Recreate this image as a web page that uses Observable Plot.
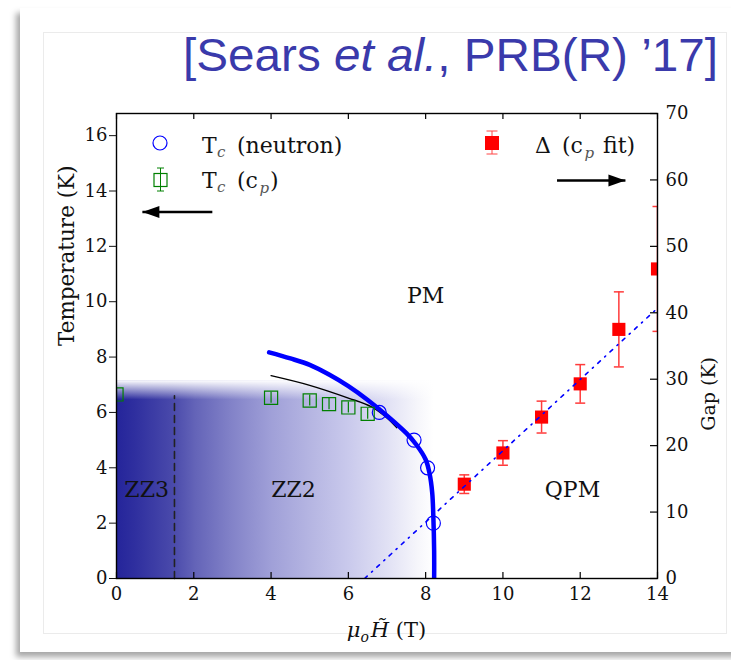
<!DOCTYPE html>
<html>
<head>
<meta charset="utf-8">
<script src="https://cdn.jsdelivr.net/npm/d3@7"></script>
<script src="https://cdn.jsdelivr.net/npm/@observablehq/plot@0.6"></script>
<style>
  body { margin: 0; background: #fff; }
  #stage { position: relative; width: 731px; height: 660px; overflow: hidden; background: #fff; }
  #panel { position: absolute; left: 20px; top: 8px; width: 760px; height: 644px; background: #fff;
           box-shadow: -4px 5px 6px rgba(0, 0, 0, 0.35); }
  #inner { position: absolute; left: 43px; top: 32px; width: 682px; height: 600px; background: #fff;
           border: 1px solid #ebebeb; }
  #title { position: absolute; left: 183px; top: 31px; font: 47px "Liberation Sans", Arial, sans-serif;
           line-height: 1; color: #3a3aab; white-space: nowrap; transform-origin: 0 0; }
  #chart { position: absolute; left: 0; top: 0; }
</style>
</head>
<body>
<div id="stage">
  <div id="panel"></div>
  <div id="inner"></div>
  <div id="title">[Sears <i>et al.</i>, PRB(R) ’17]</div>
  <div id="chart"></div>
</div>
<script>
// Ordering temperature from neutron diffraction (field in T, temperature in K)
const neutronH = [6.8, 7.7, 8.05, 8.2];
const neutronT = [6.0, 5.0, 4.0, 2.0];

// Ordering temperature from specific-heat anomalies
const cpH = [0.0, 4.0, 5.0, 5.5, 6.0, 6.5];
const cpT = [6.65, 6.53, 6.43, 6.3, 6.18, 5.95];
const cpErr = [0.2, 0.2, 0.2, 0.2, 0.2, 0.2];

// Gap from fits to the specific heat (K, right axis)
const gapH = [9, 10, 11, 12, 13, 14];
const gapK = [14.2, 18.9, 24.3, 29.3, 37.5, 46.6];
const gapErr = [1.4, 1.85, 2.4, 2.9, 5.65, 9.4];

// Linear fit of the gap
const fitH = [6.42, 14];
const fitGap = [0, 40.7];

// Phase boundary of the ordered state
const boundaryH = [3.95, 4.5, 5.0, 5.5, 6.0, 6.5, 7.0, 7.5, 7.75, 8.0, 8.1, 8.17, 8.2, 8.22, 8.22];
const boundaryT = [8.17, 7.95, 7.72, 7.37, 6.95, 6.45, 5.88, 5.25, 4.85, 4.3, 3.8, 3.1, 2.2, 1.0, 0];

// Thin guide line above the cp points
const guideH = [4.0, 5.0, 6.0, 6.6, 7.0, 7.25];
const guideT = [7.33, 6.98, 6.52, 6.2, 5.8, 5.45];

// ZZ3 / ZZ2 crossover
const crossoverH = [1.5, 1.5];
const crossoverT = [0, 6.6];

// Extent of the ordered (zigzag) region and its soft upper edge
const zoneH = [0, 8.22];
const zoneT = [0, 7.15];
const fadeT = [6.45, 7.15];

// Region names
const regionNames = ["ZZ3", "ZZ2", "PM", "QPM"];
const regionH = [0.78, 4.58, 8.0, 11.8];
const regionT = [3.2, 3.2, 10.2, 3.2];

// Arrows pointing to the axis each data set belongs to
const arrowFromH = [2.48, 11.4];
const arrowToH = [0.67, 13.17];
const arrowT = [13.24, 14.38];

// Axes
const fieldTicks = [0, 2, 4, 6, 8, 10, 12, 14];
const tempTicks = [0, 2, 4, 6, 8, 10, 12, 14, 16];
const gapTicks = [0, 10, 20, 30, 40, 50, 60, 70];
const fieldMax = 14;
const tempMax = 16.8;
const gapMax = 70;

// ---------------------------------------------------------------------------
const k = tempMax / gapMax;               // gap (K) -> left-axis units
const serif = "'DejaVu Serif', serif";
const ink = "#111";

const neutron = neutronH.map((h, i) => ({h, t: neutronT[i]}));
const cp = cpH.map((h, i) => ({h, t: cpT[i], e: cpErr[i]}));
const gap = gapH.map((h, i) => ({h, t: gapK[i] * k, lo: (gapK[i] - gapErr[i]) * k, hi: (gapK[i] + gapErr[i]) * k}));
const fit = fitH.map((h, i) => ({h, t: fitGap[i] * k}));
const boundary = boundaryH.map((h, i) => ({h, t: boundaryT[i]}));
const guide = guideH.map((h, i) => ({h, t: guideT[i]}));
const crossover = crossoverH.map((h, i) => ({h, t: crossoverT[i]}));
const regions = regionNames.map((name, i) => ({name, h: regionH[i], t: regionT[i]}));
const arrows = arrowFromH.map((h, i) => ({from: h, to: arrowToH[i], t: arrowT[i]}));
const zone = [{h1: zoneH[0], h2: zoneH[1], t1: zoneT[0], t2: zoneT[1]}];
const fade = [{h1: zoneH[0], h2: zoneH[1], t1: fadeT[0], t2: fadeT[1]}];

// Symbols: horizontal error-bar cap and filled arrow heads (tip at the origin)
const capSymbol = {draw(ctx, size) { const w = Math.sqrt(size / Math.PI); ctx.moveTo(-w, 0); ctx.lineTo(w, 0); }};
const headRight = {draw(ctx, size) { const r = Math.sqrt(size / Math.PI); ctx.moveTo(0, 0); ctx.lineTo(-2 * r, -0.7 * r); ctx.lineTo(-2 * r, 0.7 * r); ctx.closePath(); }};
const headLeft = {draw(ctx, size) { const r = Math.sqrt(size / Math.PI); ctx.moveTo(0, 0); ctx.lineTo(2 * r, -0.7 * r); ctx.lineTo(2 * r, 0.7 * r); ctx.closePath(); }};

// Gradients for the ordered region: dark on the left, fading toward the critical field
function gradients() {
  const defs = d3.create("svg:defs");
  const shade = defs.append("linearGradient").attr("id", "zz-shade")
    .attr("x1", 0).attr("x2", 1).attr("y1", 0).attr("y2", 0);
  [[0, "#24249a"], [0.06, "#2f2f9f"], [0.18, "#4a4aab"], [0.25, "#6464b8"], [0.37, "#8484c9"],
   [0.49, "#a0a0d8"], [0.61, "#b5b5e2"], [0.73, "#c9c9ec"], [0.85, "#e0e0f4"], [0.95, "#f6f6fb"], [1, "#ffffff"]]
    .forEach(([o, c]) => shade.append("stop").attr("offset", o).attr("stop-color", c));
  const fadeGrad = defs.append("linearGradient").attr("id", "zz-fade")
    .attr("x1", 0).attr("x2", 0).attr("y1", 1).attr("y2", 0);
  fadeGrad.append("stop").attr("offset", 0).attr("stop-color", "#fff").attr("stop-opacity", 0);
  fadeGrad.append("stop").attr("offset", 1).attr("stop-color", "#fff").attr("stop-opacity", 1);
  return defs.node();
}

// Legend in the upper corners of the frame
function legend(index, scales, values, dims) {
  const g = d3.create("svg:g").attr("font-family", serif).attr("font-size", 22)
    .attr("fill", ink).attr("text-anchor", "start");
  const L = dims.marginLeft, T = dims.marginTop;
  const sub = (x, y, s) => g.append("text").attr("x", x).attr("y", y).attr("font-size", 15)
    .attr("font-style", "italic").attr("fill", "#555").text(s);
  const word = (x, y, s) => g.append("text").attr("x", x).attr("y", y).text(s);
  // T_c (neutron)
  g.append("circle").attr("cx", L + 44).attr("cy", T + 30).attr("r", 7)
    .attr("fill", "none").attr("stroke", "blue").attr("stroke-width", 1.2);
  word(L + 86, T + 40, "T");
  sub(L + 101, T + 44, "c");
  word(L + 121, T + 40, "(neutron)");
  // T_c (c_p)
  const cy = T + 67;
  g.append("line").attr("x1", L + 44.5).attr("x2", L + 44.5).attr("y1", cy - 12).attr("y2", cy + 11).attr("stroke", "green");
  g.append("line").attr("x1", L + 41).attr("x2", L + 48).attr("y1", cy - 12).attr("y2", cy - 12).attr("stroke", "green");
  g.append("line").attr("x1", L + 41).attr("x2", L + 48).attr("y1", cy + 11).attr("y2", cy + 11).attr("stroke", "green");
  g.append("rect").attr("x", L + 38).attr("y", cy - 6.5).attr("width", 13).attr("height", 13)
    .attr("fill", "none").attr("stroke", "green").attr("stroke-width", 1.2);
  word(L + 86, T + 75, "T");
  sub(L + 101, T + 79, "c");
  word(L + 121, T + 75, "(c");
  sub(L + 143.5, T + 80, "p");
  word(L + 154, T + 75, ")");
  // Δ (c_p fit)
  const rx = L + 376, ry = T + 30;
  g.append("line").attr("x1", rx).attr("x2", rx).attr("y1", ry - 12).attr("y2", ry + 11).attr("stroke", "#ff4444");
  g.append("line").attr("x1", rx - 5.5).attr("x2", rx + 5.5).attr("y1", ry - 12).attr("y2", ry - 12).attr("stroke", "#ff4444");
  g.append("line").attr("x1", rx - 5.5).attr("x2", rx + 5.5).attr("y1", ry + 11).attr("y2", ry + 11).attr("stroke", "#ff4444");
  g.append("rect").attr("x", rx - 7).attr("y", ry - 7).attr("width", 14).attr("height", 14).attr("fill", "red");
  word(L + 419, T + 40, "Δ");
  word(L + 446, T + 40, "(c");
  sub(L + 468.5, T + 45, "p");
  word(L + 487, T + 40, "fit)");
  return g.node();
}

// Field axis title: μ_o H̃ (T)
function fieldLabel(index, scales, values, dims) {
  const cx = (dims.marginLeft + dims.width - dims.marginRight) / 2;
  const t = d3.create("svg:text").attr("x", cx).attr("y", dims.height - 23)
    .attr("text-anchor", "middle").attr("font-family", serif).attr("font-size", 21).attr("fill", ink);
  t.append("tspan").attr("font-style", "italic").text("μ");
  t.append("tspan").attr("font-style", "italic").attr("font-size", 14).attr("dy", 5).text("o");
  t.append("tspan").attr("font-style", "italic").attr("dy", -5).attr("dx", 2).text("H\u0303");
  t.append("tspan").text(" (T)");
  return t.node();
}

const plotW = 731, plotH = 660;
const mL = 116, mR = 74, mT = 113, mB = 82;
const innerW = plotW - mL - mR, innerH = plotH - mT - mB;

const chart = Plot.plot({
  width: plotW,
  height: plotH,
  marginLeft: mL,
  marginRight: mR,
  marginTop: mT,
  marginBottom: mB,
  x: {domain: [0, fieldMax]},
  y: {domain: [0, tempMax]},
  style: {background: "none", fontFamily: serif, fontSize: "18px", color: ink},
  marks: [
    gradients,
    // ordered region
    Plot.rect(zone, {x1: "h1", x2: "h2", y1: "t1", y2: "t2", fill: "url(#zz-shade)"}),
    Plot.rect(fade, {x1: "h1", x2: "h2", y1: "t1", y2: "t2", fill: "url(#zz-fade)"}),
    Plot.line(crossover, {x: "h", y: "t", stroke: "#222", strokeWidth: 1.6, strokeDasharray: "7,5"}),
    // phase boundary and guide
    Plot.line(guide, {x: "h", y: "t", stroke: "black", strokeWidth: 1.4, curve: "catmull-rom"}),
    Plot.line(boundary, {x: "h", y: "t", stroke: "blue", strokeWidth: 4.5, curve: "catmull-rom", clip: true}),
    // neutron points
    Plot.dot(neutron, {x: "h", y: "t", r: 7, stroke: "blue", strokeWidth: 1.2, fill: "none"}),
    // specific-heat points
    Plot.ruleX(cp, {x: "h", y1: d => d.t - d.e, y2: d => d.t + d.e, stroke: "green", strokeWidth: 1.2, clip: true}),
    Plot.dot(cp, {x: "h", y: "t", symbol: "square", r: 7.4, stroke: "green", strokeWidth: 1.2, fill: "none", clip: true}),
    // gap points
    Plot.ruleX(gap, {x: "h", y1: "lo", y2: "hi", stroke: "#ff3b3b", strokeWidth: 1.5, clip: true}),
    Plot.dot(gap, {x: "h", y: "lo", symbol: capSymbol, r: 5, stroke: "#ff3b3b", strokeWidth: 1.5, clip: true}),
    Plot.dot(gap, {x: "h", y: "hi", symbol: capSymbol, r: 5, stroke: "#ff3b3b", strokeWidth: 1.5, clip: true}),
    Plot.dot(gap, {x: "h", y: "t", symbol: "square", r: 7.4, fill: "red", stroke: "none", clip: true}),
    Plot.line(fit, {x: "h", y: "t", stroke: "blue", strokeWidth: 1.6, strokeDasharray: "3.5,6,1.2,6", clip: true}),
    // region labels
    Plot.text(regions, {x: "h", y: "t", text: "name", fontSize: 22, fill: ink}),
    // arrows
    Plot.link(arrows, {x1: "from", x2: "to", y1: "t", y2: "t", stroke: "black", strokeWidth: 2.4}),
    Plot.dot(arrows.filter(d => d.to > d.from), {x: "to", y: "t", symbol: headRight, r: 8.5, fill: "black", stroke: "none"}),
    Plot.dot(arrows.filter(d => d.to < d.from), {x: "to", y: "t", symbol: headLeft, r: 8.5, fill: "black", stroke: "none"}),
    // frame and inward ticks
    Plot.tickX(fieldTicks, {x: d => d, insetTop: innerH - 6, stroke: "black", strokeWidth: 1.2}),
    Plot.tickX(fieldTicks, {x: d => d, insetBottom: innerH - 6, stroke: "black", strokeWidth: 1.2}),
    Plot.tickY(gapTicks, {y: d => d * k, insetLeft: innerW - 7, stroke: "black", strokeWidth: 1.2}),
    Plot.frame({stroke: "black", strokeWidth: 1.4}),
    // axes
    Plot.axisX(fieldTicks, {anchor: "bottom", tickSize: 0, tickPadding: 9, label: null}),
    Plot.axisY(tempTicks, {anchor: "left", tickSize: 7, tickPadding: 2, label: null}),
    Plot.axisY(gapTicks.map(g => g * k), {anchor: "right", tickSize: 0, tickPadding: 8, label: null,
      tickFormat: d => String(Math.round(d / k))}),
    Plot.text(["Temperature (K)"], {frameAnchor: "left", rotate: -90, dx: -49, fontSize: 21.5, fill: ink}),
    Plot.text(["Gap (K)"], {frameAnchor: "right", rotate: -90, dx: 51, dy: 11, fontSize: 19, fill: ink}),
    fieldLabel,
    legend
  ]
});

document.getElementById("chart").append(chart);

// Fit the reference line to its slot in the header
const title = document.getElementById("title");
const tw = title.getBoundingClientRect().width;
title.style.transform = `scaleX(${535 / tw})`;
</script>
</body>
</html>
